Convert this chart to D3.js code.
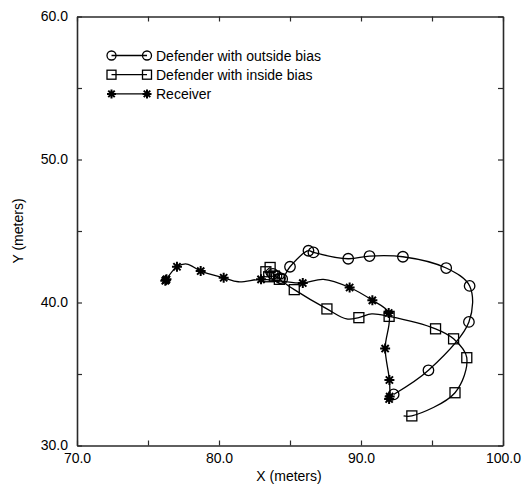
<!DOCTYPE html>
<html>
<head>
<meta charset="utf-8">
<script src="https://cdn.jsdelivr.net/npm/d3@7"></script>
<style>
  html, body { margin: 0; padding: 0; background: #fff; }
  svg { display: block; font-family: "Liberation Sans", Arial, Helvetica, sans-serif; }
</style>
</head>
<body>
<svg id="chart" width="526" height="485"></svg>
<script>
// Tracks in field coordinates (meters). "Mark" flags tell which samples carry a symbol.
const outsideX    = [83.8, 84.05, 84.3, 84.45, 85.0, 86.3, 86.65, 89.1, 90.6, 92.95, 96.0, 97.65, 97.6, 94.75, 92.3];
const outsideY    = [42.0, 41.85, 41.7, 41.65, 42.5, 43.62, 43.5, 43.06, 43.25, 43.2, 42.41, 41.16, 38.64, 35.26, 33.57];
const outsideMark = [1, 1, 1, 1, 1, 1, 1, 1, 1, 1, 1, 1, 1, 1, 1];

const insideX    = [83.6, 83.3, 83.5, 83.9, 84.25, 85.3, 87.6, 88.99, 89.85, 90.75, 91.98, 95.25, 96.52, 97.45, 96.62, 93.58, 93.0];
const insideY    = [42.45, 42.15, 41.8, 41.85, 41.62, 40.9, 39.55, 38.85, 38.94, 39.2, 39.03, 38.16, 37.46, 36.14, 33.69, 32.07, 32.07];
const insideMark = [1, 1, 1, 1, 1, 1, 1, 0, 1, 0, 1, 1, 1, 1, 1, 1, 0];

const receiverX    = [76.22, 76.3, 76.26, 77.04, 77.73, 78.71, 80.33, 81.36, 82.96, 84.3, 85.9, 87.35, 89.2, 90.8, 91.95, 91.7, 92.0, 92.02, 91.98];
const receiverY    = [41.52, 41.62, 41.57, 42.5, 42.69, 42.2, 41.73, 41.45, 41.62, 41.5, 41.36, 41.62, 41.05, 40.15, 39.27, 36.78, 34.58, 33.42, 33.25];
const receiverMark = [1, 1, 1, 1, 0, 1, 1, 0, 1, 0, 1, 0, 1, 1, 1, 1, 1, 1, 1];

const xTicks = [70, 75, 80, 85, 90, 95, 100];
const yTicks = [30, 35, 40, 45, 50, 55, 60];
const legendLabels = ["Defender with outside bias", "Defender with inside bias", "Receiver"];
const xTitle = "X (meters)";
const yTitle = "Y (meters)";

const series = [
  { name: legendLabels[0], xs: outsideX,  ys: outsideY,  mark: outsideMark,  symbol: "circle" },
  { name: legendLabels[1], xs: insideX,   ys: insideY,   mark: insideMark,   symbol: "square" },
  { name: legendLabels[2], xs: receiverX, ys: receiverY, mark: receiverMark, symbol: "star" }
];

const svg = d3.select("#chart");
const plotL = 77, plotR = 503, plotT = 16.5, plotB = 445.5;

const x = d3.scaleLinear().domain([70, 100]).range([plotL, plotR]);
const y = d3.scaleLinear().domain([30, 60]).range([plotB, plotT]);

const label = v => (v % 10 === 0 ? d3.format(".1f")(v) : "");
const axisColor = "#2a2a2a";

function styleAxis(g) {
  g.select(".domain").attr("stroke", axisColor).attr("stroke-width", 1.6);
  g.selectAll(".tick line").attr("stroke", axisColor).attr("stroke-width", 1.2);
  g.selectAll(".tick text").attr("fill", "#000").style("font-size", "14px")
    .style("font-family", "'Liberation Sans', Arial, Helvetica, sans-serif");
}

svg.append("g").attr("transform", `translate(0,${plotB})`)
  .call(d3.axisBottom(x).tickValues(xTicks).tickFormat(label).tickSizeInner(-5).tickSizeOuter(0).tickPadding(8))
  .call(styleAxis);
svg.append("g").attr("transform", `translate(0,${plotT})`)
  .call(d3.axisTop(x).tickValues(xTicks).tickFormat("").tickSizeInner(-5).tickSizeOuter(0))
  .call(styleAxis);
svg.append("g").attr("transform", `translate(${plotL},0)`)
  .call(d3.axisLeft(y).tickValues(yTicks).tickFormat(label).tickSizeInner(-5).tickSizeOuter(0).tickPadding(9))
  .call(styleAxis);
svg.append("g").attr("transform", `translate(${plotR},0)`)
  .call(d3.axisRight(y).tickValues(yTicks).tickFormat("").tickSizeInner(-5).tickSizeOuter(0))
  .call(styleAxis);

svg.append("text")
  .attr("x", 289).attr("y", 481)
  .attr("text-anchor", "middle").style("font-size", "14px")
  .text(xTitle);
svg.append("text")
  .attr("transform", "translate(23,231) rotate(-90)")
  .attr("text-anchor", "middle").style("font-size", "14px")
  .text(yTitle);

// Symbols
function drawSymbol(g, kind, cx, cy, s) {
  if (kind === "circle") {
    g.append("circle").attr("cx", cx).attr("cy", cy).attr("r", s / 2)
      .attr("fill", "none").attr("stroke", "#000").attr("stroke-width", 1.3);
  } else if (kind === "square") {
    g.append("rect").attr("x", cx - s / 2).attr("y", cy - s / 2).attr("width", s).attr("height", s)
      .attr("fill", "none").attr("stroke", "#000").attr("stroke-width", 1.3);
  } else {
    const h = s / 2, d = h * 0.72;
    g.append("path")
      .attr("d", `M${cx - h},${cy}H${cx + h}M${cx},${cy - h}V${cy + h}` +
                 `M${cx - d},${cy - d}L${cx + d},${cy + d}M${cx - d},${cy + d}L${cx + d},${cy - d}`)
      .attr("fill", "none").attr("stroke", "#000").attr("stroke-width", 2);
  }
}

const line = d3.line()
  .x(d => x(d.x)).y(d => y(d.y))
  .curve(d3.curveCatmullRom.alpha(0.5));

const plot = svg.append("g");
series.forEach(s => {
  const pts = s.xs.map((v, i) => ({ x: v, y: s.ys[i], m: s.mark[i] }));
  plot.append("path").datum(pts).attr("d", line)
    .attr("fill", "none").attr("stroke", "#000").attr("stroke-width", 1.3);
  const g = plot.append("g");
  pts.filter(p => p.m).forEach(p => drawSymbol(g, s.symbol, x(p.x), y(p.y), s.symbol === "circle" ? 10.5 : 10));
});

// Legend
const legend = svg.append("g");
series.forEach((s, i) => {
  const ly = 55.5 + i * 19.2;
  const x0 = 111.5, x1 = 147;
  legend.append("line").attr("x1", x0).attr("x2", x1).attr("y1", ly).attr("y2", ly)
    .attr("stroke", "#000").attr("stroke-width", 1.3);
  drawSymbol(legend, s.symbol, x0, ly, 9);
  drawSymbol(legend, s.symbol, x1, ly, 9);
  legend.append("text").attr("x", 156).attr("y", ly + 5)
    .style("font-size", "14px").text(s.name);
});
</script>
</body>
</html>
